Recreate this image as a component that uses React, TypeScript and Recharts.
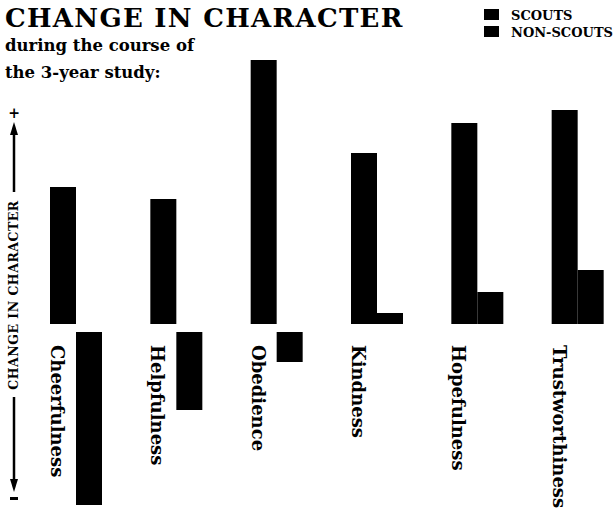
import React from "react";
import { BarChart, Bar, XAxis, YAxis, LabelList } from "recharts";

// Change in character over the 3-year study (relative units)
const CATEGORIES = [
  "Cheerfulness",
  "Helpfulness",
  "Obedience",
  "Kindness",
  "Hopefulness",
  "Trustworthiness",
];
const SCOUTS = [137, 125, 264, 171, 201, 214];
const NON_SCOUTS = [-173, -78, -30, 11, 32, 54];
const SERIES_NAMES = ["SCOUTS", "NON-SCOUTS"];

const DATA = CATEGORIES.map((name, i) => ({
  name,
  scouts: SCOUTS[i],
  nonScouts: NON_SCOUTS[i],
}));

const INK = "#000";
const SERIF = "'DejaVu Serif', serif";
const GAP = 4; // positive bars sit a little above zero, negative a little below

function GapBar(props: any) {
  const { x, y, width, height } = props;
  const raw = Array.isArray(props.value) ? props.value[1] : props.value;
  const top = Math.min(y, y + height);
  const h = Math.abs(height);
  const shift = raw >= 0 ? -GAP : GAP;
  return <rect x={x} y={top + shift} width={width} height={h} fill={INK} />;
}

function CategoryLabel(props: any) {
  const vb = props.viewBox && props.viewBox.width != null ? props.viewBox : props;
  const x = vb.x + 1;
  const y = vb.y + vb.height + 17;
  return (
    <text
      x={x}
      y={y}
      transform={`rotate(90, ${x}, ${y})`}
      textAnchor="start"
      fill={INK}
      fontFamily={SERIF}
      fontWeight={700}
      fontSize={18}
    >
      {props.value}
    </text>
  );
}

export default function App() {
  return (
    <div
      style={{
        position: "absolute",
        left: 0,
        top: 0,
        width: 615,
        height: 509,
        overflow: "hidden",
        background: "#fff",
      }}
    >
      <BarChart
        width={640}
        height={509}
        data={DATA}
        margin={{ top: 58, right: 12, bottom: 1, left: 26 }}
        barGap={0}
        barSize={26}
      >
        <XAxis dataKey="name" hide />
        <YAxis hide type="number" domain={[-180, 270]} allowDataOverflow />
        <Bar dataKey="scouts" name={SERIES_NAMES[0]} fill={INK} shape={<GapBar />} isAnimationActive={false}>
          <LabelList dataKey="name" content={<CategoryLabel />} />
        </Bar>
        <Bar
          dataKey="nonScouts"
          name={SERIES_NAMES[1]}
          fill={INK}
          shape={<GapBar />}
          isAnimationActive={false}
        />
      </BarChart>

      <svg
        width={615}
        height={509}
        style={{ position: "absolute", left: 0, top: 0, pointerEvents: "none" }}
      >
        <text
          x={5}
          y={27}
          fontFamily={SERIF}
          fontWeight={700}
          fontSize={26}
          letterSpacing={1.3}
          fill={INK}
        >
          CHANGE IN CHARACTER
        </text>
        <text x={5} y={51} fontFamily={SERIF} fontWeight={700} fontSize={16.5} fill={INK}>
          during the course of
        </text>
        <text x={5} y={78} fontFamily={SERIF} fontWeight={700} fontSize={16.5} fill={INK}>
          the 3-year study:
        </text>

        {/* legend */}
        {SERIES_NAMES.map((label, i) => (
          <g key={label}>
            <rect x={484} y={9 + i * 17} width={15} height={11} fill={INK} />
            <text x={511} y={20 + i * 17} fontFamily={SERIF} fontWeight={700} fontSize={13} fill={INK}>
              {label}
            </text>
          </g>
        ))}

        {/* vertical axis caption with arrows */}
        <text x={14} y={118} textAnchor="middle" fontFamily={SERIF} fontWeight={700} fontSize={14} fill={INK}>
          +
        </text>
        <polygon points="14,122 10,135 18,135" fill={INK} />
        <line x1={14} y1={134} x2={14} y2={192} stroke={INK} strokeWidth={2.5} />
        <text
          x={18}
          y={295}
          transform="rotate(-90, 18, 295)"
          textAnchor="middle"
          fontFamily={SERIF}
          fontWeight={700}
          fontSize={12.5}
          letterSpacing={0.5}
          fill={INK}
        >
          CHANGE IN CHARACTER
        </text>
        <line x1={14} y1={397} x2={14} y2={481} stroke={INK} strokeWidth={2.5} />
        <polygon points="14,492 10,479 18,479" fill={INK} />
        <rect x={10} y={497} width={8} height={3} fill={INK} />
      </svg>
    </div>
  );
}
